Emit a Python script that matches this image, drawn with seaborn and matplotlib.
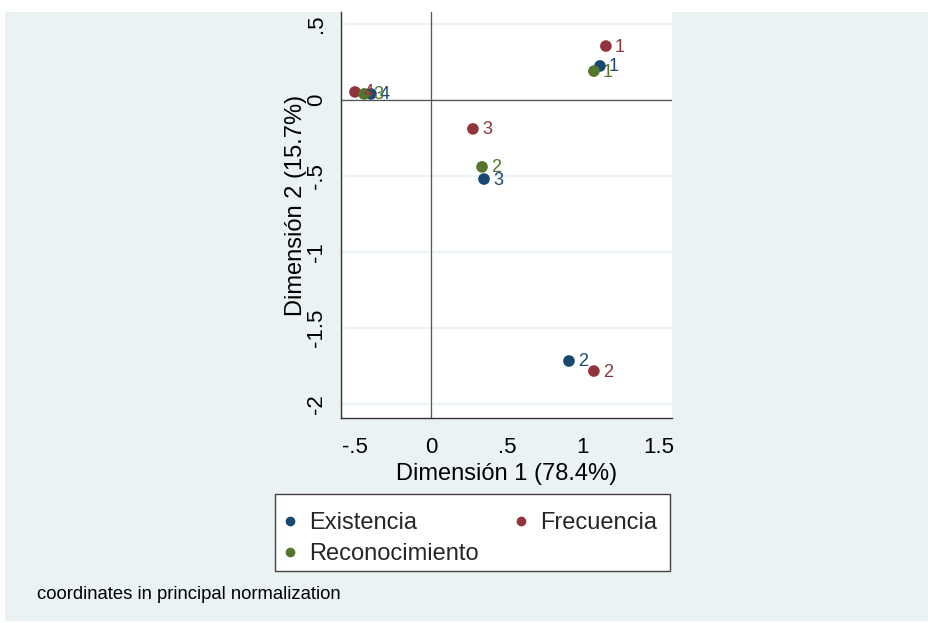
import matplotlib
matplotlib.use("Agg")
import matplotlib.pyplot as plt
from matplotlib.patches import Rectangle
from matplotlib.lines import Line2D
import seaborn as sns
import pandas as pd

# ---- data ----
series_names = ["Existencia", "Frecuencia", "Reconocimiento"]
exist_x = [1.112, 0.908, 0.349, -0.395]
exist_y = [0.224, -1.717, -0.520, 0.040]
exist_lab = ["1", "2", "3", "4"]
frec_x = [1.151, 1.072, 0.276, -0.500]
frec_y = [0.355, -1.783, -0.190, 0.053]
frec_lab = ["1", "2", "3", "4"]
recon_x = [1.072, 0.336, -0.440]
recon_y = [0.190, -0.440, 0.040]
recon_lab = ["1", "2", "3"]

xticks = [-0.5, 0, 0.5, 1, 1.5]
xtick_labels = ["-.5", "0", ".5", "1", "1.5"]
yticks = [-2, -1.5, -1, -0.5, 0, 0.5]
ytick_labels = ["-2", "-1.5", "-1", "-.5", "0", ".5"]

colors = {"Existencia": "#1a476f", "Frecuencia": "#90353b", "Reconocimiento": "#55752f"}

rows = []
for name, xs, ys, labs in [("Existencia", exist_x, exist_y, exist_lab),
                           ("Frecuencia", frec_x, frec_y, frec_lab),
                           ("Reconocimiento", recon_x, recon_y, recon_lab)]:
    for x, y, l in zip(xs, ys, labs):
        rows.append({"dim1": x, "dim2": y, "serie": name, "lab": l})
df = pd.DataFrame(rows)

sns.set_style("white")
plt.rcParams["font.family"] = ["Liberation Sans", "DejaVu Sans"]

W, H = 929, 623
def fx(x):
    return x / W
def fy(y):
    return 1 - y / H

fig = plt.figure(figsize=(W / 100, H / 100), dpi=100)
fig.patch.set_facecolor("white")
fig.add_artist(Rectangle((fx(5), fy(621)), fx(928) - fx(5), fy(12) - fy(621),
                         transform=fig.transFigure, facecolor="#EAF2F3",
                         edgecolor="none", zorder=-10))

ax = fig.add_axes([fx(341), fy(418), fx(672) - fx(341), fy(12) - fy(418)])
ax.set_facecolor("white")
ax.set_xlim(-0.592, 1.586)
ax.set_ylim(-2.092, 0.579)

for yt in yticks:
    ax.axhline(yt, color="#EAF2F3", lw=1.6, zorder=0)
ax.axhline(0, color="#555555", lw=0.9, zorder=1)
ax.axvline(0, color="#555555", lw=0.9, zorder=1)

sns.scatterplot(data=df, x="dim1", y="dim2", hue="serie", palette=colors,
                hue_order=series_names, s=70, linewidth=0, legend=False,
                ax=ax, zorder=3)

for _, r in df.iterrows():
    ax.annotate(r["lab"], (r["dim1"], r["dim2"]), xytext=(9, -1),
                textcoords="offset pixels", ha="left", va="center",
                fontsize=13, color=colors[r["serie"]], zorder=4)

ax.set_xticks(xticks)
ax.set_xticklabels(xtick_labels)
ax.set_yticks(yticks)
ax.set_yticklabels(ytick_labels, rotation=90, va="center")
ax.tick_params(axis="both", direction="out", length=8, width=1,
               color="#333333", labelsize=16, labelcolor="black")
ax.tick_params(axis="x", pad=6)
ax.tick_params(axis="y", pad=2)
ax.set_xlabel("")
ax.set_ylabel("")
for s in ["top", "right"]:
    ax.spines[s].set_visible(False)
for s in ["left", "bottom"]:
    ax.spines[s].set_color("#333333")
    ax.spines[s].set_linewidth(1)

fig.text(fx(507), fy(480), "Dimensión 1 (78.4%)", ha="center", va="baseline",
         fontsize=17, color="black")
fig.text(fx(302), fy(205), "Dimensión 2 (15.7%)", ha="center", va="baseline",
         rotation=90, rotation_mode="anchor", fontsize=17, color="black")

# legend frame
fig.add_artist(Rectangle((fx(275), fy(571)), fx(670) - fx(275), fy(494) - fy(571),
                         transform=fig.transFigure, facecolor="white",
                         edgecolor="#404040", linewidth=1, zorder=1))
order = ["Existencia", "Reconocimiento", "Frecuencia"]
handles = [Line2D([], [], marker="o", ls="", color=colors[n], markersize=7,
                  markeredgewidth=0) for n in order]
leg = fig.legend(handles, order, loc="upper left",
                 bbox_to_anchor=(fx(275), fy(504)), ncol=2, frameon=False,
                 fontsize=17, handlelength=0.6,
                 handletextpad=0.5, columnspacing=1.5, borderpad=0.35,
                 labelspacing=0.37, borderaxespad=0)
leg.set_zorder(2)

fig.text(fx(37), fy(599), "coordinates in principal normalization",
         ha="left", va="baseline", fontsize=13.3, color="black")

fig.savefig("out.png", dpi=100, facecolor=fig.get_facecolor())
